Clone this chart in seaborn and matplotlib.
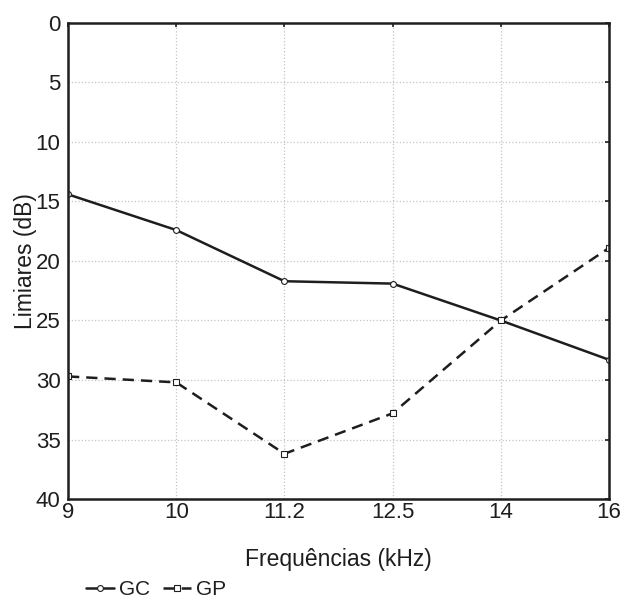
import pandas as pd
import matplotlib
matplotlib.use("Agg")
import matplotlib.pyplot as plt
import seaborn as sns

# data
freqs = ["9", "10", "11.2", "12.5", "14", "16"]
gc_vals = [14.4, 17.4, 21.7, 21.9, 25.0, 28.3]
gp_vals = [29.7, 30.2, 36.2, 32.8, 25.0, 18.9]
groups = ["GC", "GP"]

df = pd.DataFrame({
    "freq": freqs * 2,
    "limiar": gc_vals + gp_vals,
    "grupo": [groups[0]] * len(freqs) + [groups[1]] * len(freqs),
})

sns.set_theme(style="white")
plt.rcParams["font.family"] = ["Liberation Sans", "DejaVu Sans"]

ink = "#1e1e1e"
fig = plt.figure(figsize=(6.2, 6.05), dpi=100)
ax = fig.add_axes([0.1097, 0.1752, 0.8726, 0.7868])

sns.lineplot(data=df, x="freq", y="limiar", hue="grupo", style="grupo",
             palette=[ink, ink], markers=["o", "s"],
             dashes=[(), (4.5, 2.8)], linewidth=1.8, markersize=4.2,
             markerfacecolor="white", markeredgecolor=ink,
             markeredgewidth=0.8, legend=False, ax=ax)

ax.set_ylim(40, 0)
ax.set_xlim(0, len(freqs) - 1)
ax.set_yticks(range(0, 41, 5))
ax.grid(True, color="#c4c4c4", linestyle=":", linewidth=0.9)

for s in ax.spines.values():
    s.set_visible(True)
    s.set_color(ink)
    s.set_linewidth(1.8)

ax.tick_params(direction="in", length=3, width=1.2, color=ink,
               top=True, right=True, labelsize=16, labelcolor=ink)
ax.tick_params(axis="y", pad=5.5)
ax.tick_params(axis="x", pad=2)

ax.set_xlabel("Frequências (kHz)", fontsize=16.5, color=ink, va="center")
ax.set_ylabel("Limiares (dB)", fontsize=16.5, color=ink, va="center")
ax.xaxis.set_label_coords(0.5, -0.128)
ax.yaxis.set_label_coords(-0.0795, 0.5)

handles = ax.get_lines()[:2]
leg = fig.legend(handles, groups, loc="center left", bbox_to_anchor=(0.125, 0.025),
                 ncol=2, frameon=False, fontsize=15, handlelength=1.35,
                 handletextpad=0.25, columnspacing=0.6, borderaxespad=0)
for t in leg.get_texts():
    t.set_color(ink)

fig.savefig("out.png", dpi=100)
